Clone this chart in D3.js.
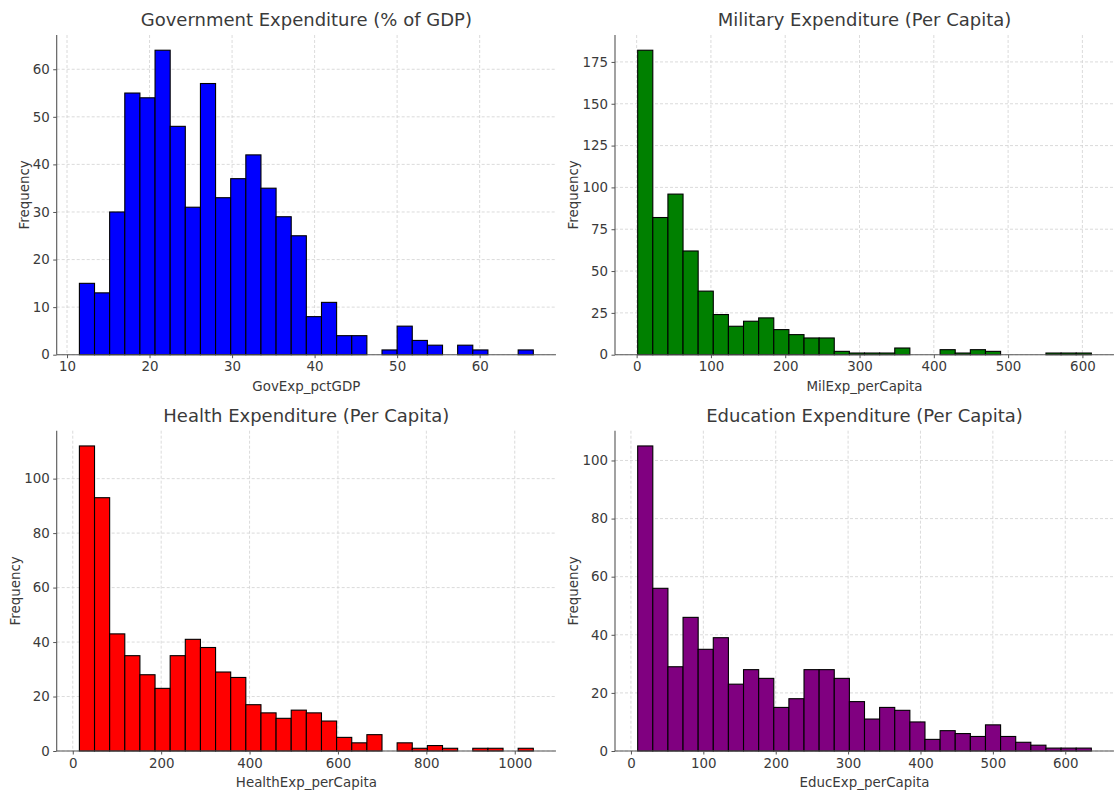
<!DOCTYPE html>
<html>
<head>
<meta charset="utf-8">
<script src="https://cdn.jsdelivr.net/npm/d3@7"></script>
<style>
  html, body { margin: 0; padding: 0; background: #fff; }
  svg { display: block; font-family: "DejaVu Sans", sans-serif; }
</style>
</head>
<body>
<svg id="chart" width="1118" height="791"></svg>
<script>
// ---- Data ----
const govCounts = [15, 13, 30, 55, 54, 64, 48, 31, 57, 33, 37, 42, 35, 29, 25, 8, 11, 4, 4, 0, 1, 6, 3, 2, 0, 2, 1, 0, 0, 1];
const govRange = [11.5, 66.5];
const govXTicks = [10, 20, 30, 40, 50, 60];
const govYTicks = [0, 10, 20, 30, 40, 50, 60];

const milCounts = [182, 82, 96, 62, 38, 24, 17, 20, 22, 15, 12, 10, 10, 2, 1, 1, 1, 4, 0, 0, 3, 1, 3, 2, 0, 0, 0, 1, 1, 1];
const milRange = [1.4, 612];
const milXTicks = [0, 100, 200, 300, 400, 500, 600];
const milYTicks = [0, 25, 50, 75, 100, 125, 150, 175];

const healthCounts = [112, 93, 43, 35, 28, 23, 35, 41, 38, 29, 27, 17, 14, 12, 15, 14, 11, 5, 3, 6, 0, 3, 1, 2, 1, 0, 1, 1, 0, 1];
const healthRange = [15, 1042];
const healthXTicks = [0, 200, 400, 600, 800, 1000];
const healthYTicks = [0, 20, 40, 60, 80, 100];

const eduCounts = [105, 56, 29, 46, 35, 39, 23, 28, 25, 15, 18, 28, 28, 25, 17, 11, 15, 14, 10, 4, 7, 6, 5, 9, 5, 3, 2, 1, 1, 1];
const eduRange = [9.3, 636];
const eduXTicks = [0, 100, 200, 300, 400, 500, 600];
const eduYTicks = [0, 20, 40, 60, 80, 100];

const panels = [
  { title: "Government Expenditure (% of GDP)", xlabel: "GovExp_pctGDP", counts: govCounts, range: govRange, xTicks: govXTicks, yTicks: govYTicks, color: "#0000ff",
    box: { left: 56.7, top: 35, right: 556, bottom: 354.7 } },
  { title: "Military Expenditure (Per Capita)", xlabel: "MilExp_perCapita", counts: milCounts, range: milRange, xTicks: milXTicks, yTicks: milYTicks, color: "#008000",
    box: { left: 615, top: 35, right: 1114, bottom: 354.7 } },
  { title: "Health Expenditure (Per Capita)", xlabel: "HealthExp_perCapita", counts: healthCounts, range: healthRange, xTicks: healthXTicks, yTicks: healthYTicks, color: "#ff0000",
    box: { left: 56.7, top: 430.7, right: 556, bottom: 751 } },
  { title: "Education Expenditure (Per Capita)", xlabel: "EducExp_perCapita", counts: eduCounts, range: eduRange, xTicks: eduXTicks, yTicks: eduYTicks, color: "#800080",
    box: { left: 615, top: 430.7, right: 1114, bottom: 751 } }
];

const svg = d3.select("#chart");
const textColor = "#3a3a3a";
const spineColor = "#555";
const smallFont = "13.4px";
const titleFont = "18px";

panels.forEach(p => {
  const w = p.box.right - p.box.left;
  const h = p.box.bottom - p.box.top;
  const g = svg.append("g").attr("transform", `translate(${p.box.left},${p.box.top})`);

  const n = p.counts.length;
  const bw = (p.range[1] - p.range[0]) / n;
  const bins = p.counts.map((c, i) => ({ x0: p.range[0] + i * bw, x1: p.range[0] + (i + 1) * bw, c }));
  const pad = (p.range[1] - p.range[0]) * 0.05;
  const x = d3.scaleLinear().domain([p.range[0] - pad, p.range[1] + pad]).range([0, w]);
  const y = d3.scaleLinear().domain([0, d3.max(p.counts) * 1.05]).range([h, 0]);

  // grid
  const grid = g.append("g");
  grid.selectAll(".gx").data(p.xTicks).join("line")
    .attr("x1", d => x(d)).attr("x2", d => x(d)).attr("y1", 0).attr("y2", h)
    .attr("stroke", "#d2d2d2").attr("stroke-width", 0.8).attr("stroke-dasharray", "3,2");
  grid.selectAll(".gy").data(p.yTicks).join("line")
    .attr("x1", 0).attr("x2", w).attr("y1", d => y(d)).attr("y2", d => y(d))
    .attr("stroke", "#d2d2d2").attr("stroke-width", 0.8).attr("stroke-dasharray", "3,2");

  // bars
  g.append("g").selectAll("rect").data(bins).join("rect")
    .attr("x", d => x(d.x0)).attr("width", d => x(d.x1) - x(d.x0))
    .attr("y", d => y(d.c)).attr("height", d => y(0) - y(d.c))
    .attr("fill", p.color).attr("stroke", "#000").attr("stroke-width", 1.1);

  // axes
  const xAxis = d3.axisBottom(x).tickValues(p.xTicks).tickSize(3.5).tickPadding(3.5).tickFormat(d3.format("d"));
  const yAxis = d3.axisLeft(y).tickValues(p.yTicks).tickSize(3.5).tickPadding(3.5).tickFormat(d3.format("d"));
  const gx = g.append("g").attr("transform", `translate(0,${h})`).call(xAxis);
  const gy = g.append("g").call(yAxis);
  [gx, gy].forEach(a => {
    a.select(".domain").attr("stroke", spineColor).attr("stroke-width", 1.1);
    a.selectAll(".tick line").attr("stroke", spineColor).attr("stroke-width", 1);
    a.selectAll(".tick text").attr("fill", textColor).style("font-size", smallFont).style("font-family", "DejaVu Sans, sans-serif");
  });
  gx.select(".domain").attr("d", `M0,0H${w}`);
  gy.select(".domain").attr("d", `M0,${h}V0`);

  let maxW = 0;
  gy.selectAll(".tick text").each(function () { maxW = Math.max(maxW, this.getBBox().width); });

  // title
  g.append("text").attr("x", w / 2).attr("y", -9).attr("text-anchor", "middle")
    .attr("fill", textColor).style("font-size", titleFont).text(p.title);
  // x label
  g.append("text").attr("x", w / 2).attr("y", h + 36).attr("text-anchor", "middle")
    .attr("fill", textColor).style("font-size", smallFont).text(p.xlabel);
  // y label
  g.append("text").attr("transform", `translate(${-(maxW + 11)},${h / 2}) rotate(-90)`)
    .attr("text-anchor", "middle").attr("fill", textColor).style("font-size", smallFont).text("Frequency");
});
</script>
</body>
</html>
